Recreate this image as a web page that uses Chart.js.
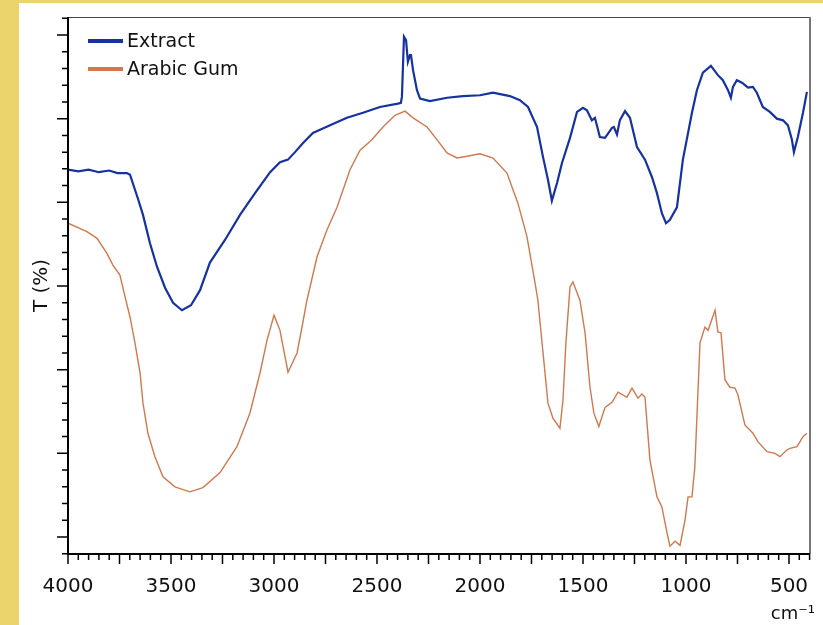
<!DOCTYPE html>
<html>
<head>
<meta charset="utf-8">
<script src="https://cdn.jsdelivr.net/npm/chart.js"></script>
<style>
  html, body { margin: 0; padding: 0; background: #fff; }
  #wrap { position: relative; width: 823px; height: 625px; overflow: hidden; background: #fff; }
  #bandL { position: absolute; left: 0; top: 0; width: 19px; height: 625px; background: #ecd46c; }
  #bandT { position: absolute; left: 0; top: 0; width: 823px; height: 3px; background: #ecd46c; }
  canvas { position: absolute; left: 0; top: 0; }
</style>
</head>
<body>
<div id="wrap">
  <div id="bandL"></div>
  <div id="bandT"></div>
  <canvas id="myChart" width="823" height="625"></canvas>
</div>
<script>
// wavenumber (cm-1) and transmittance
const wnExtract = [4000,3950,3900,3850,3800,3760,3714,3699,3660,3636,3602,3568,3529,3490,3447,3403,
  3359,3311,3238,3165,3092,3019,2971,2932,2898,2859,2811,2728,2646,2568,2486,2398,2384,2379,2369,2359,
  2350,2340,2335,2325,2306,2291,2243,2160,2083,2000,1937,1855,1806,1767,1723,1694,1670,1651,1626,1602,
  1563,1529,1500,1481,1457,1442,1418,1393,1359,1350,1335,1321,1296,1272,1238,1199,1165,1141,1117,1097,
  1078,1044,1015,971,947,918,879,845,821,796,782,772,753,728,699,675,656,627,593,559,529,505,486,476,457,432,413];
const tExtract = [43.9,43.7,43.9,43.6,43.8,43.5,43.5,43.3,40.4,38.5,35.1,32.3,29.8,28.0,27.1,27.7,
  29.5,32.8,35.5,38.5,41.1,43.6,44.8,45.1,46.0,47.1,48.3,49.2,50.1,50.7,51.4,51.8,51.9,52.6,59.8,59.4,
  56.8,57.6,57.6,55.8,53.4,52.4,52.1,52.5,52.7,52.8,53.1,52.7,52.2,51.4,49.0,45.4,42.7,40.2,42.3,44.7,
  47.7,50.8,51.3,51.0,49.8,50.1,47.8,47.7,48.9,49.0,48.1,49.8,50.9,50.1,46.6,45.1,43.0,41.1,38.7,37.5,
  37.9,39.4,45.1,50.7,53.4,55.5,56.3,55.2,54.6,53.4,52.5,53.8,54.6,54.3,53.7,53.8,53.1,51.4,50.8,50.0,
  49.8,49.2,47.5,46.0,47.8,50.7,53.2];

const wnGum = [4000,3908,3859,3811,3782,3748,3723,3699,3675,3650,3636,3612,3578,3539,3481,3408,3345,3262,
  3180,3117,3068,3034,3000,2971,2932,2888,2864,2840,2791,2743,2694,2631,2583,2524,2471,2413,2364,2325,
  2257,2209,2160,2112,2063,2000,1937,1869,1816,1772,1733,1719,1694,1670,1646,1612,1597,1583,1563,1549,
  1515,1490,1466,1447,1423,1393,1359,1330,1287,1262,1233,1214,1199,1175,1141,1117,1092,1078,1053,1029,
  1005,990,971,957,932,908,893,859,845,830,811,787,762,748,714,675,651,607,568,544,510,495,461,432,413];
const tGum = [37.5,36.5,35.7,33.9,32.5,31.3,28.7,26.3,23.2,19.6,16.0,12.4,9.6,7.2,6.0,5.4,5.9,7.7,
  10.8,14.8,19.6,23.5,26.5,24.7,19.7,22.0,25.1,28.3,33.5,36.7,39.4,43.9,46.2,47.5,49.0,50.4,50.9,50.1,
  49.0,47.5,45.9,45.3,45.5,45.8,45.3,43.5,39.9,35.9,30.4,28.3,22.0,16.0,14.2,13.0,16.4,23.2,29.9,30.5,
  28.3,24.4,17.9,14.8,13.2,15.5,16.1,17.3,16.7,17.8,16.6,17.1,16.7,9.2,4.8,3.6,0.5,-1.1,-0.5,-1.0,
  2.0,4.8,4.8,8.4,23.2,25.1,24.7,27.1,24.5,24.4,18.8,17.9,17.8,17.0,13.4,12.4,11.4,10.2,10.0,9.6,
  10.4,10.6,10.8,12.0,12.4];

const seriesNames = ['Extract', 'Arabic Gum'];
const xLabels = [4000, 3500, 3000, 2500, 2000, 1500, 1000, 500];
const xUnit = 'cm⁻¹';

const FONT = 'DejaVu Sans';

// ticks, frame, unit label and inside legend
const frameTicks = {
  id: 'frameTicks',
  afterDraw(chart) {
    const { ctx, chartArea: a, scales: { x, y } } = chart;
    ctx.save();
    ctx.strokeStyle = '#000';
    ctx.lineWidth = 1.5;
    ctx.beginPath();
    for (let v = 400; v <= 4000; v += 50) {
      const px = x.getPixelForValue(v);
      const len = v % 250 === 0 ? 10 : 6;
      ctx.moveTo(px, a.bottom);
      ctx.lineTo(px, a.bottom + len);
    }
    for (let v = -2; v <= 62; v += 2) {
      const py = y.getPixelForValue(v);
      const len = v % 10 === 0 ? 11 : 6;
      ctx.moveTo(a.left, py);
      ctx.lineTo(a.left - len, py);
    }
    ctx.stroke();

    // top and right sides
    ctx.strokeStyle = '#444';
    ctx.lineWidth = 1;
    ctx.beginPath();
    ctx.moveTo(a.left, a.top + 0.5);
    ctx.lineTo(a.right, a.top + 0.5);
    ctx.stroke();
    ctx.strokeStyle = '#777';
    ctx.lineWidth = 2;
    ctx.beginPath();
    ctx.moveTo(a.right, a.top);
    ctx.lineTo(a.right, a.bottom);
    ctx.stroke();
    // left and bottom axes
    ctx.strokeStyle = '#000';
    ctx.lineWidth = 2;
    ctx.beginPath();
    ctx.moveTo(a.left, a.top);
    ctx.lineTo(a.left, a.bottom);
    ctx.lineTo(a.right, a.bottom);
    ctx.stroke();

    // unit under the axis, right aligned
    ctx.fillStyle = '#111';
    ctx.font = '18px "' + FONT + '"';
    ctx.textAlign = 'right';
    ctx.textBaseline = 'middle';
    ctx.fillText(xUnit, a.right + 5, 614);

    // legend
    ctx.textAlign = 'left';
    ctx.font = '19px "' + FONT + '"';
    chart.data.datasets.forEach((ds, i) => {
      const ly = 41 + i * 28;
      ctx.strokeStyle = ds.borderColor;
      ctx.lineWidth = 4;
      ctx.beginPath();
      ctx.moveTo(88, ly);
      ctx.lineTo(123, ly);
      ctx.stroke();
      ctx.fillText(ds.label, 127, ly + 1);
    });
    ctx.restore();
  }
};

const ctx = document.getElementById('myChart').getContext('2d');
new Chart(ctx, {
  type: 'line',
  data: {
    datasets: [{
      label: seriesNames[0],
      data: wnExtract.map((w, i) => ({ x: w, y: tExtract[i] })),
      borderColor: '#1532a0',
      borderWidth: 2.2,
      pointRadius: 0,
      tension: 0
    }, {
      label: seriesNames[1],
      data: wnGum.map((w, i) => ({ x: w, y: tGum[i] })),
      borderColor: '#d0784f',
      borderWidth: 1.4,
      pointRadius: 0,
      tension: 0
    }]
  },
  options: {
    responsive: false,
    animation: false,
    layout: { padding: { top: 17, right: 13, left: 0, bottom: 0 } },
    plugins: {
      legend: { display: false },
      tooltip: { enabled: false }
    },
    scales: {
      x: {
        type: 'linear',
        reverse: true,
        min: 398,
        max: 4000,
        grid: { display: false, drawTicks: false },
        border: { display: false },
        afterBuildTicks: s => { s.ticks = xLabels.map(v => ({ value: v })); },
        afterFit: s => { s.height = 71; s.paddingLeft = 0; s.paddingRight = 0; },
        ticks: {
          autoSkip: false,
          maxRotation: 0,
          padding: 21,
          color: '#111',
          font: { family: FONT, size: 20 },
          callback: v => String(v)
        }
      },
      y: {
        min: -2.03,
        max: 62.15,
        grid: { display: false, drawTicks: false },
        border: { display: false },
        ticks: { display: false },
        afterFit: s => { s.width = 68; },
        title: {
          display: true,
          text: 'T (%)',
          color: '#111',
          font: { family: FONT, size: 20 },
          padding: { top: 30, bottom: 0 }
        }
      }
    }
  },
  plugins: [frameTicks]
});
</script>
</body>
</html>
